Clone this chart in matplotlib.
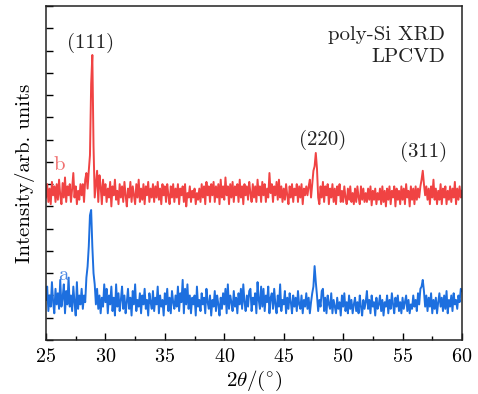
import numpy as np
import matplotlib
matplotlib.use("Agg")
import matplotlib.pyplot as plt
from matplotlib.ticker import MultipleLocator

plt.rcParams['font.family'] = ['cmr10', 'DejaVu Serif']
plt.rcParams['mathtext.fontset'] = 'cm'
plt.rcParams['axes.formatter.use_mathtext'] = True

# 2theta grid, 0.1 deg steps from 25 to 60
two_theta = np.round(np.arange(250, 601) * 0.1, 1)

# curve b (red), plotted intensity x100
curve_b = [
    640, 700, 620, 680, 610, 710, 650, 690, 620, 700,
    630, 720, 650, 610, 705, 640, 730, 620, 690, 650,
    700, 620, 680, 750, 640, 690, 610, 670, 630, 700,
    650, 700, 620, 720, 750, 680, 760, 830, 1150, 1280,
    870, 640, 700, 760, 620, 740, 690, 610, 720, 650,
    700, 620, 680, 640, 710, 600, 690, 650, 720, 630,
    670, 610, 700, 640, 690, 620, 710, 650, 600, 680,
    640, 710, 620, 690, 650, 610, 700, 640, 720, 620,
    680, 630, 700, 610, 690, 650, 710, 620, 680, 640,
    700, 620, 690, 640, 710, 630, 680, 610, 700, 650,
    690, 620, 700, 650, 610, 690, 640, 700, 620, 680,
    640, 700, 610, 680, 650, 690, 620, 700, 600, 660,
    640, 690, 620, 670, 640, 680, 610, 660, 630, 680,
    620, 700, 640, 690, 610, 710, 650, 690, 620, 700,
    650, 710, 620, 690, 640, 700, 610, 720, 640, 690,
    630, 730, 650, 690, 610, 700, 640, 710, 620, 690,
    650, 700, 620, 720, 640, 690, 610, 700, 650, 690,
    630, 710, 660, 620, 700, 640, 690, 620, 720, 650,
    690, 620, 710, 650, 700, 620, 680, 640, 750, 660,
    700, 620, 690, 650, 710, 630, 720, 640, 690, 620,
    680, 630, 700, 650, 610, 690, 640, 700, 620, 680,
    650, 700, 620, 690, 640, 700, 610, 680, 650, 690,
    650, 690, 720, 640, 700, 760, 780, 840, 770, 640,
    610, 690, 640, 710, 620, 690, 650, 700, 610, 680,
    640, 700, 620, 680, 610, 690, 650, 700, 620, 670,
    620, 690, 640, 610, 680, 630, 690, 620, 660, 610,
    680, 620, 690, 640, 610, 690, 630, 680, 620, 660,
    620, 680, 630, 690, 605, 670, 630, 680, 610, 660,
    630, 680, 610, 690, 620, 670, 600, 680, 630, 690,
    610, 670, 640, 690, 600, 680, 630, 670, 610, 690,
    630, 680, 610, 700, 640, 670, 600, 690, 630, 680,
    610, 690, 630, 680, 640, 690, 720, 760, 700, 650,
    690, 630, 680, 610, 690, 640, 720, 630, 680, 610,
    670, 630, 700, 610, 680, 640, 690, 610, 670, 630,
    690, 620, 680, 640, 710, 610, 680, 630, 690, 640,
    670,
]

# curve a (blue), plotted intensity x100
curve_a = [
    180, 240, 130, 200, 150, 260, 170, 120, 230, 160,
    210, 140, 270, 150, 190, 250, 120, 220, 160, 280,
    150, 200, 130, 240, 170, 110, 260, 140, 200, 160,
    230, 140, 200, 170, 280, 330, 420, 560, 584, 420,
    300, 250, 160, 230, 140, 200, 120, 190, 150, 250,
    170, 230, 120, 200, 160, 240, 130, 190, 110, 250,
    150, 210, 130, 180, 240, 140, 200, 120, 170, 230,
    140, 190, 110, 220, 160, 250, 130, 180, 150, 210,
    120, 200, 160, 230, 140, 180, 110, 210, 170, 140,
    220, 130, 190, 160, 240, 120, 200, 150, 180, 110,
    210, 160, 230, 130, 190, 120, 220, 170, 140, 200,
    150, 240, 130, 210, 170, 270, 120, 230, 160, 250,
    140, 200, 120, 190, 160, 200, 110, 240, 150, 180,
    130, 210, 160, 190, 120, 230, 170, 140, 200, 110,
    180, 150, 220, 130, 200, 160, 110, 190, 140, 210,
    160, 230, 120, 250, 140, 200, 170, 130, 220, 150,
    190, 120, 210, 160, 230, 140, 250, 170, 130, 200,
    150, 220, 230, 130, 190, 160, 210, 120, 260, 180,
    140, 240, 150, 230, 130, 200, 170, 240, 120, 190,
    210, 140, 230, 160, 120, 200, 150, 250, 130, 180,
    160, 220, 120, 190, 140, 210, 170, 120, 200, 150,
    190, 130, 220, 160, 140, 200, 120, 180, 150, 210,
    140, 190, 120, 170, 210, 240, 332, 260, 200, 130,
    180, 150, 220, 230, 130, 190, 120, 200, 160, 140,
    210, 120, 180, 150, 120, 190, 140, 170, 110, 200,
    150, 210, 130, 170, 120, 200, 140, 180, 120, 160,
    190, 130, 170, 120, 200, 150, 110, 180, 140, 170,
    220, 140, 180, 120, 200, 150, 170, 110, 190, 140,
    160, 200, 130, 180, 110, 170, 150, 200, 120, 180,
    140, 210, 160, 120, 190, 150, 200, 130, 170, 120,
    190, 140, 170, 200, 130, 180, 120, 160, 140, 200,
    150, 180, 130, 210, 160, 230, 240, 270, 220, 150,
    200, 130, 190, 150, 210, 120, 180, 140, 190, 120,
    170, 210, 150, 190, 130, 200, 140, 220, 120, 180,
    150, 200, 130, 210, 160, 180, 140, 200, 170, 230,
    220,
]

peak_labels = ['(111)', '(220)', '(311)']
title_lines = ['poly-Si XRD', 'LPCVD']

fig = plt.figure(figsize=(4.78, 3.94), dpi=100)
ax = fig.add_axes([0.0962, 0.137, 0.8703, 0.8478])

ax.plot(two_theta, np.array(curve_b) / 100, color='#f04343', lw=1.4)
ax.plot(two_theta, np.array(curve_a) / 100, color='#1d6fdf', lw=1.4)

ax.set_xlim(25, 60)
ax.set_ylim(0, 15)
ax.xaxis.set_major_locator(MultipleLocator(5))
ax.xaxis.set_minor_locator(MultipleLocator(2.5))
ax.yaxis.set_major_locator(MultipleLocator(1))
ax.tick_params(axis='x', which='major', direction='in', length=5, width=1,
               top=False, labelsize=14.5, pad=6)
ax.tick_params(axis='x', which='minor', direction='in', length=3, width=1, top=False)
ax.tick_params(axis='y', direction='in', length=5, width=1, right=False,
               labelleft=False)
for s in ax.spines.values():
    s.set_linewidth(1.1)
    s.set_color('#222222')

ax.set_xlabel(r'$2\theta/(^{\circ})$', fontsize=15, labelpad=2)
ax.set_ylabel('Intensity/arb. units', fontsize=15, labelpad=8)

fs = 15
ax.text(28.75, 13.34, peak_labels[0], ha='center', va='center', fontsize=fs, color='#222222')
ax.text(48.27, 8.98, peak_labels[1], ha='center', va='center', fontsize=fs, color='#222222')
ax.text(56.8, 8.44, peak_labels[2], ha='center', va='center', fontsize=fs, color='#222222')
ax.text(58.56, 13.7, title_lines[0], ha='right', va='center', fontsize=fs, color='#222222')
ax.text(58.56, 12.7, title_lines[1], ha='right', va='center', fontsize=fs, color='#222222')
ax.text(26.1, 7.86, 'b', ha='center', va='center', fontsize=fs, color='#f07070')
ax.text(26.43, 2.92, 'a', ha='center', va='center', fontsize=fs, color='#4a88e4')

fig.savefig('out.png', dpi=100)
